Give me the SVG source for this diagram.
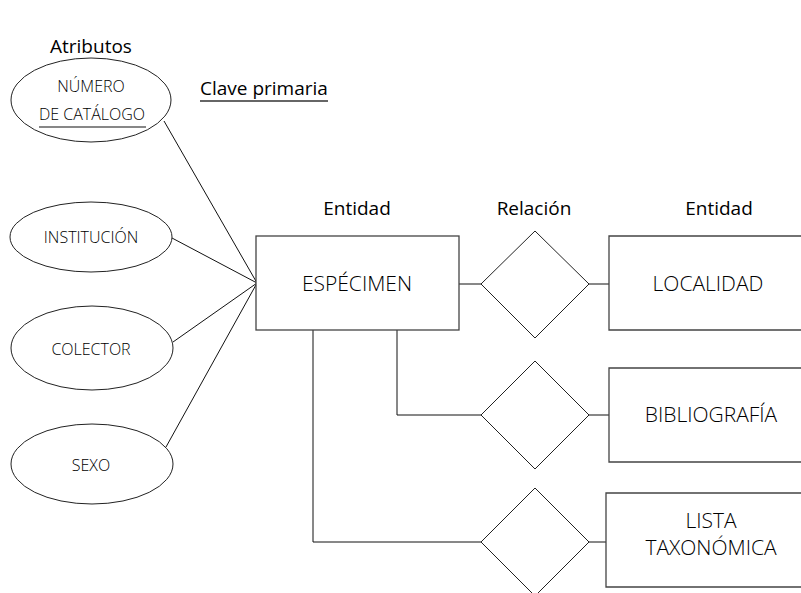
<svg xmlns="http://www.w3.org/2000/svg" width="801" height="593" viewBox="0 0 801 593">
  <style>
    .head { font-family: "Open Sans", "Noto Sans", "DejaVu Sans", sans-serif; font-size: 19px; fill: #000; }
    .lbl { font-family: "Open Sans", "Noto Sans", "DejaVu Sans", sans-serif; font-weight: 300; fill: #000; text-anchor: middle; }
    .attr { font-size: 16px; }
    .ent { font-size: 21px; }
    .shape { fill: #fff; stroke: #222; stroke-width: 1; }
    .box { fill: #fff; stroke: #444; stroke-width: 1.3; }
    .wire { fill: none; stroke: #111; stroke-width: 1; }
  </style>

  <rect width="801" height="593" fill="#fff"/>

  <!-- headings -->
  <text class="head" x="50" y="53">Atributos</text>
  <text class="head" x="200" y="95">Clave primaria</text>
  <line x1="200" y1="101" x2="328" y2="101" stroke="#333" stroke-width="1.3"/>
  <text class="head" x="357" y="215" text-anchor="middle">Entidad</text>
  <text class="head" x="534" y="215" text-anchor="middle">Relación</text>
  <text class="head" x="719" y="215" text-anchor="middle">Entidad</text>

  <!-- connectors -->
  <g id="connectors">
    <line class="wire" x1="164" y1="121" x2="257" y2="283"/>
    <line class="wire" x1="172" y1="238" x2="257" y2="283"/>
    <line class="wire" x1="173" y1="342" x2="257" y2="283"/>
    <line class="wire" x1="166" y1="447" x2="257" y2="283"/>
    <line class="wire" x1="459" y1="284" x2="481" y2="284"/>
    <line class="wire" x1="589" y1="284" x2="609" y2="284"/>
    <polyline class="wire" points="397,330 397,415 481,415"/>
    <line class="wire" x1="589" y1="415" x2="609" y2="415"/>
    <polyline class="wire" points="313,330 313,542 481,542"/>
    <line class="wire" x1="589" y1="542" x2="606" y2="542"/>
  </g>

  <!-- attributes -->
  <g id="attr-numero">
    <ellipse class="shape" cx="91" cy="100" rx="80" ry="42"/>
    <text class="lbl attr" x="91" y="92">NÚMERO</text>
    <text class="lbl attr" x="92" y="120">DE CATÁLOGO</text>
    <line x1="39" y1="127" x2="146" y2="127" stroke="#111" stroke-width="1.2"/>
  </g>
  <g id="attr-institucion">
    <ellipse class="shape" cx="91" cy="237" rx="81" ry="35"/>
    <text class="lbl attr" x="91" y="243">INSTITUCIÓN</text>
  </g>
  <g id="attr-colector">
    <ellipse class="shape" cx="92" cy="348" rx="81" ry="42"/>
    <text class="lbl attr" x="91" y="355">COLECTOR</text>
  </g>
  <g id="attr-sexo">
    <ellipse class="shape" cx="92" cy="464" rx="81" ry="40"/>
    <text class="lbl attr" x="91" y="471">SEXO</text>
  </g>

  <!-- entities -->
  <g id="ent-especimen">
    <rect class="box" x="256" y="236" width="203" height="94"/>
    <text class="lbl ent" x="357" y="291">ESPÉCIMEN</text>
  </g>
  <g id="ent-localidad">
    <path class="box" d="M803,236 H609 V330 H803"/>
    <text class="lbl ent" x="708" y="291">LOCALIDAD</text>
  </g>
  <g id="ent-bibliografia">
    <path class="box" d="M803,368 H609 V462 H803"/>
    <text class="lbl ent" x="711" y="422">BIBLIOGRAFÍA</text>
  </g>
  <g id="ent-lista">
    <path class="box" d="M803,493 H606 V587 H803"/>
    <text class="lbl ent" x="711" y="528">LISTA</text>
    <text class="lbl ent" x="711" y="555">TAXONÓMICA</text>
  </g>

  <!-- relationships -->
  <g id="rel-localidad">
    <polygon class="shape" points="535,231 589,284 535,338 481,284"/>
  </g>
  <g id="rel-bibliografia">
    <polygon class="shape" points="535,361 589,415 535,469 481,415"/>
  </g>
  <g id="rel-lista">
    <polygon class="shape" points="535,488 589,542 535,596 481,542"/>
  </g>
</svg>
